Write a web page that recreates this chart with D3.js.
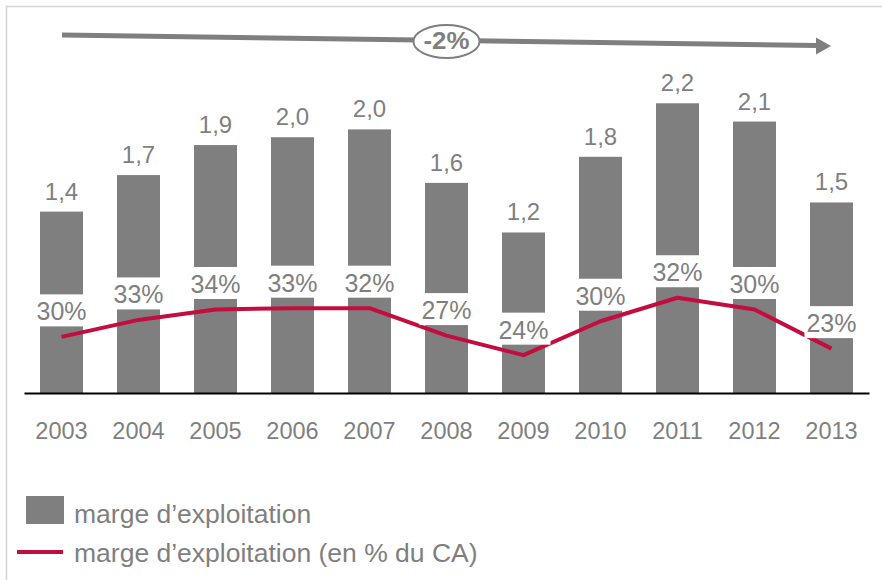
<!DOCTYPE html>
<html>
<head>
<meta charset="utf-8">
<script src="https://cdn.jsdelivr.net/npm/d3@7"></script>
<style>
  html, body { margin: 0; padding: 0; background: #fff; }
  svg { display: block; font-family: "Liberation Sans", Arial, sans-serif; }
</style>
</head>
<body>
<svg id="chart" width="882" height="580"></svg>
<script>
// ---- data ----
const years = ["2003","2004","2005","2006","2007","2008","2009","2010","2011","2012","2013"];
const margeValues = [1.39, 1.67, 1.90, 1.96, 2.02, 1.61, 1.23, 1.81, 2.22, 2.08, 1.46];
const pctLabels = [30, 33, 34, 33, 32, 27, 24, 30, 32, 30, 23];
const lineValues = [0.43, 0.56, 0.64, 0.65, 0.65, 0.44, 0.29, 0.55, 0.73, 0.64, 0.34];
const trendLabel = "-2%";
const legendLabels = ["marge d\u2019exploitation", "marge d\u2019exploitation (en % du CA)"];

// ---- styles ----
const GREY = "#7f7f7f";
const RED = "#c20d3e";
const FONT = "'Liberation Sans', Arial, sans-serif";
const svg = d3.select("#chart");

// frame
svg.append("rect").attr("x", 6.5).attr("y", 6.5).attr("width", 900).attr("height", 600)
  .attr("fill", "none").attr("stroke", "#d3d3d3").attr("stroke-width", 1.5);

const baseY = 393;
const x = d3.scaleBand().domain(years).range([24, 869])
  .paddingInner(0.4416).paddingOuter(0.208);
const y = d3.scaleLinear().domain([0, 2.5]).range([baseY, baseY - 2.5 * 130.5]);

// bars
svg.append("g").selectAll("rect").data(years).join("rect")
  .attr("x", d => x(d))
  .attr("y", (d, i) => y(margeValues[i]))
  .attr("width", x.bandwidth())
  .attr("height", (d, i) => y(0) - y(margeValues[i]))
  .attr("fill", GREY);

// axis
const axis = svg.append("g").attr("transform", `translate(0,${baseY})`)
  .call(d3.axisBottom(x).tickSize(0).tickSizeOuter(0));
axis.attr("font-family", FONT);
axis.select(".domain").attr("stroke", "#000").attr("stroke-width", 2.2);
axis.selectAll("text").attr("y", 46).attr("dy", 0)
  .attr("font-size", 23.5).attr("fill", GREY);

// line
const line = d3.line()
  .x((d, i) => x(years[i]) + x.bandwidth() / 2)
  .y(d => y(d));
svg.append("path").datum(lineValues).attr("d", line)
  .attr("fill", "none").attr("stroke", RED).attr("stroke-width", 4)
  .attr("stroke-linejoin", "round");

// pct labels with white boxes
const pg = svg.append("g");
years.forEach((yr, i) => {
  const cx = x(yr) + x.bandwidth() / 2;
  const by = y(lineValues[i]) - 16.5;
  const g = pg.append("g");
  const r = g.append("rect").attr("fill", "#fff");
  const t = g.append("text").attr("x", cx).attr("y", by)
    .attr("text-anchor", "middle").attr("font-size", 25).attr("fill", GREY)
    .text(pctLabels[i] + "%");
  const bb = t.node().getBBox();
  r.attr("x", bb.x - 2).attr("width", bb.width + 4)
   .attr("y", by - 26).attr("height", 32);
});

// value labels
svg.append("g").selectAll("text").data(years).join("text")
  .attr("x", d => x(d) + x.bandwidth() / 2)
  .attr("y", (d, i) => y(margeValues[i]) - 12)
  .attr("text-anchor", "middle").attr("font-size", 24).attr("fill", GREY)
  .text((d, i) => margeValues[i].toFixed(1).replace(".", ","));

// trend arrow
svg.append("line").attr("x1", 62).attr("y1", 35).attr("x2", 817).attr("y2", 45.5)
  .attr("stroke", GREY).attr("stroke-width", 5);
svg.append("path").attr("d", "M816,37.5 L831,46 L816,54.5 Z").attr("fill", GREY);
svg.append("ellipse").attr("cx", 446.5).attr("cy", 41.5).attr("rx", 33).attr("ry", 16.5)
  .attr("fill", "#fff").attr("stroke", GREY).attr("stroke-width", 2);
svg.append("text").attr("x", 446.5).attr("y", 49).attr("text-anchor", "middle")
  .attr("font-size", 24).attr("font-weight", "bold").attr("fill", GREY)
  .attr("textLength", 46).attr("lengthAdjust", "spacingAndGlyphs")
  .text(trendLabel);

// legend
const lg = svg.append("g");
lg.append("rect").attr("x", 26).attr("y", 496).attr("width", 38).attr("height", 28).attr("fill", GREY);
lg.append("text").attr("x", 74).attr("y", 522.5).attr("font-size", 26.5).attr("fill", GREY).text(legendLabels[0]);
lg.append("line").attr("x1", 17).attr("x2", 63).attr("y1", 552).attr("y2", 552)
  .attr("stroke", RED).attr("stroke-width", 4);
lg.append("text").attr("x", 74).attr("y", 561.5).attr("font-size", 26.5).attr("fill", GREY).text(legendLabels[1]);
</script>
</body>
</html>
